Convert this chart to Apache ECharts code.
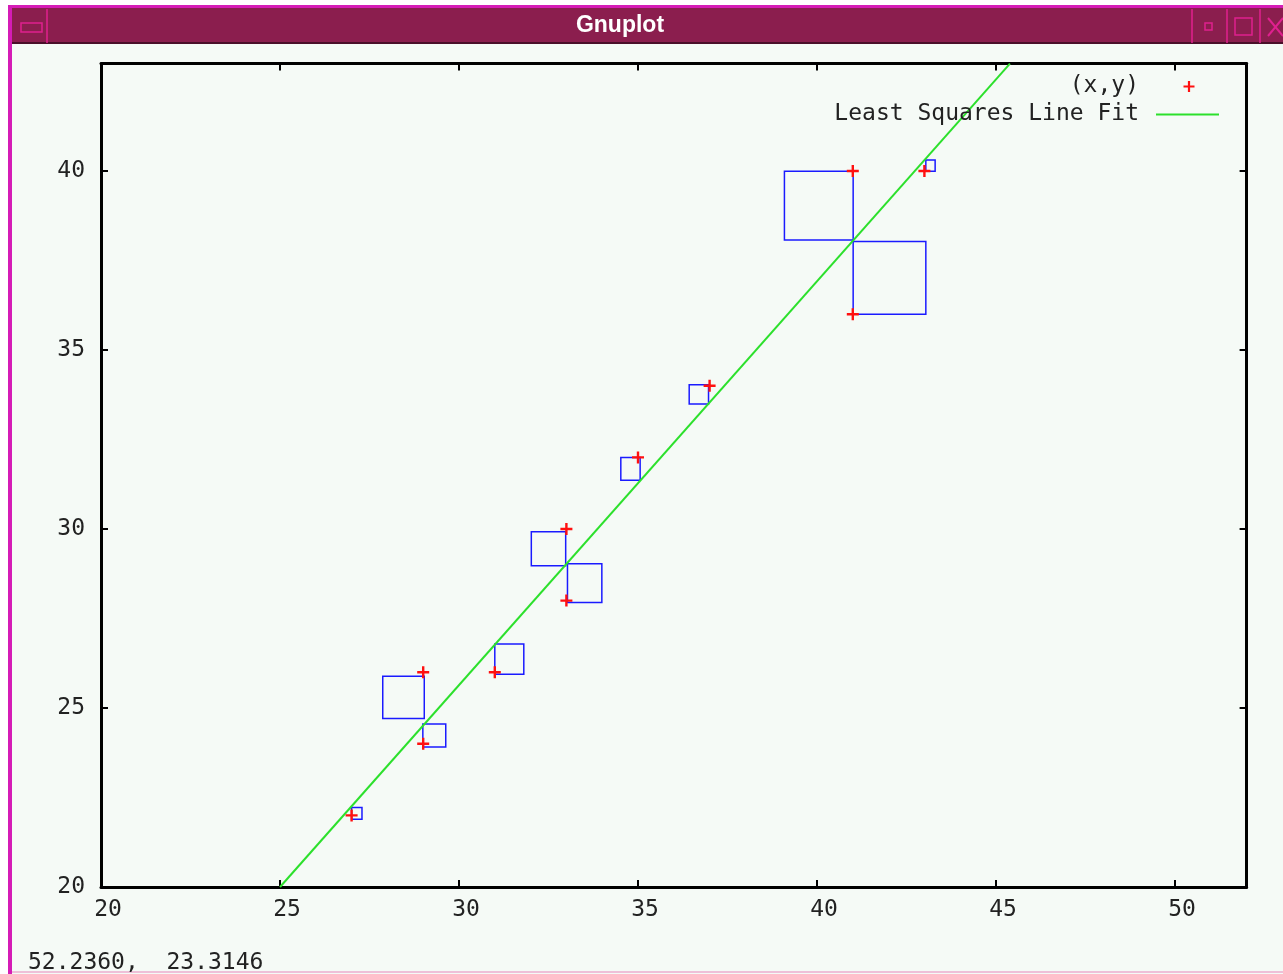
<!DOCTYPE html>
<html>
<head>
<meta charset="utf-8">
<script src="https://cdn.jsdelivr.net/npm/echarts@6/dist/echarts.min.js"></script>
<style>
html,body{margin:0;padding:0;background:#ffffff;}
#chart{width:1283px;height:974px;}
</style>
</head>
<body>
<div id="chart"></div>
<script>
// ---- data ----
const pointsX = [27, 29, 29, 31, 33, 33, 35, 37, 41, 41, 43];
const pointsY = [22, 26, 24, 26, 30, 28, 32, 34, 40, 36, 40];
const fitX = [25, 45.39];
const fitY = [20.0, 43.0];
const sqX0 = [27.00, 27.87, 28.99, 31.00, 32.02, 33.03, 34.52, 36.43, 39.09, 41.01, 43.04];
const sqX1 = [27.29, 29.03, 29.63, 31.81, 32.98, 33.99, 35.06, 36.97, 41.01, 43.04, 43.30];
const sqY0 = [21.89, 24.71, 23.91, 25.94, 28.97, 27.95, 31.36, 33.49, 38.07, 36.00, 39.99];
const sqY1 = [22.22, 25.89, 24.55, 26.79, 29.92, 29.03, 32.00, 34.03, 39.99, 38.03, 40.31];
const seriesNames = ['(x,y)', 'Least Squares Line Fit'];
const windowTitle = 'Gnuplot';
const statusText = '52.2360,  23.3146';

const pointData = pointsX.map((x, i) => [x, pointsY[i]]);
const fitData = fitX.map((x, i) => [x, fitY[i]]);
const sqData = sqX0.map((x, i) => [x, sqY0[i], sqX1[i], sqY1[i]]);

const FONT = '"DejaVu Sans Mono", "Liberation Mono", monospace';
const PLUS = 'path://M4,0H6V4H10V6H6V10H4V6H0V4H4Z';
const BG = '#f5faf6';
const GREEN = '#2ce02c';

const chart = echarts.init(document.getElementById('chart'), null, {renderer: 'canvas'});

const axisCommon = {
  axisLine: {show: true, onZero: false, lineStyle: {color: '#000', width: 3}},
  axisTick: {show: true, inside: true, length: 7, lineStyle: {color: '#000', width: 2}},
  splitLine: {show: false}
};

const option = {
  backgroundColor: '#ffffff',
  animation: false,
  graphic: [
    // window frame and client background
    {type: 'rect', shape: {x: 8, y: 5, width: 1275, height: 969}, style: {fill: '#d51cb6'}, z: -10},
    {type: 'rect', shape: {x: 12, y: 8, width: 1271, height: 966}, style: {fill: BG}, z: -9},
    // title bar
    {type: 'rect', shape: {x: 12, y: 8, width: 1271, height: 36}, style: {fill: '#8b1e4e'}, z: -8},
    {type: 'rect', shape: {x: 12, y: 42, width: 1271, height: 2}, style: {fill: '#4a0f2a'}, z: -7},
    {type: 'line', shape: {x1: 47, y1: 9, x2: 47, y2: 43}, style: {stroke: '#e0208f', lineWidth: 1.5}, z: -7},
    {type: 'rect', shape: {x: 21, y: 23, width: 21, height: 9}, style: {fill: '#8b1e4e', stroke: '#e0208f', lineWidth: 1.5}, z: -7},
    {type: 'line', shape: {x1: 1192, y1: 9, x2: 1192, y2: 43}, style: {stroke: '#e0208f', lineWidth: 1.5}, z: -7},
    {type: 'line', shape: {x1: 1227, y1: 9, x2: 1227, y2: 43}, style: {stroke: '#e0208f', lineWidth: 1.5}, z: -7},
    {type: 'line', shape: {x1: 1260, y1: 9, x2: 1260, y2: 43}, style: {stroke: '#e0208f', lineWidth: 1.5}, z: -7},
    {type: 'rect', shape: {x: 1205, y: 23, width: 7, height: 7}, style: {fill: '#8b1e4e', stroke: '#e0208f', lineWidth: 1.5}, z: -7},
    {type: 'rect', shape: {x: 1235, y: 18, width: 17, height: 17}, style: {fill: '#8b1e4e', stroke: '#e0208f', lineWidth: 1.5}, z: -7},
    {type: 'line', shape: {x1: 1268, y1: 18, x2: 1283, y2: 36}, style: {stroke: '#e0208f', lineWidth: 2}, z: -7},
    {type: 'line', shape: {x1: 1283, y1: 18, x2: 1268, y2: 36}, style: {stroke: '#e0208f', lineWidth: 2}, z: -7},
    {type: 'text', x: 620, y: 26,
      style: {text: windowTitle, fill: '#ffffff', align: 'center', verticalAlign: 'middle',
        font: 'bold 23px "Liberation Sans Narrow", "Liberation Sans", sans-serif'}, z: -6},
    // bottom pink line
    {type: 'rect', shape: {x: 12, y: 971, width: 1271, height: 2}, style: {fill: '#eec0d8'}, z: -7},
    // status text
    {type: 'text', left: 28, top: 952, style: {text: statusText, fill: '#222', font: '23px ' + FONT}, z: 5}
  ],
  grid: {left: 101, top: 63.6, width: 1145.6, height: 823.4, show: false},
  legend: [
    {
      data: [{name: seriesNames[0], icon: PLUS}],
      orient: 'vertical', align: 'right', right: 83.5, top: 70,
      itemWidth: 13, itemHeight: 11,
      textStyle: {fontFamily: FONT, fontSize: 23, color: '#222', padding: [0, 38.5, 0, 0]},
      selectedMode: false
    },
    {
      data: [{name: seriesNames[1], icon: 'rect'}],
      orient: 'vertical', align: 'right', right: 59, top: 98,
      itemWidth: 63, itemHeight: 2,
      textStyle: {fontFamily: FONT, fontSize: 23, color: '#222', padding: [0, 12, 0, 0]},
      selectedMode: false
    }
  ],
  xAxis: [
    Object.assign({}, axisCommon, {
      type: 'value', position: 'bottom', min: 20, max: 52, interval: 5,
      axisLabel: {show: true, showMaxLabel: false, showMinLabel: true, margin: 12,
        fontFamily: FONT, fontSize: 23, color: '#222', padding: [0, 0, 0, 14]}
    }),
    Object.assign({}, axisCommon, {
      type: 'value', position: 'top', min: 20, max: 52, interval: 5,
      axisLabel: {show: false}
    })
  ],
  yAxis: [
    Object.assign({}, axisCommon, {
      type: 'value', position: 'left', min: 20, max: 43, interval: 5,
      axisLabel: {show: true, showMaxLabel: false, showMinLabel: true, margin: 16,
        fontFamily: FONT, fontSize: 23, color: '#222'}
    }),
    Object.assign({}, axisCommon, {
      type: 'value', position: 'right', min: 20, max: 43, interval: 5,
      axisLabel: {show: false}
    })
  ],
  series: [
    {
      name: 'squares',
      type: 'custom',
      xAxisIndex: 0, yAxisIndex: 0,
      data: sqData,
      encode: {x: [0, 2], y: [1, 3]},
      clip: true,
      z: 2,
      renderItem: function (params, api) {
        const p0 = api.coord([api.value(0), api.value(3)]);
        const p1 = api.coord([api.value(2), api.value(1)]);
        return {
          type: 'rect',
          shape: {x: p0[0], y: p0[1], width: p1[0] - p0[0], height: p1[1] - p0[1]},
          style: {fill: 'none', stroke: '#1a1aff', lineWidth: 1.5}
        };
      }
    },
    {
      name: seriesNames[1],
      type: 'line',
      xAxisIndex: 0, yAxisIndex: 0,
      data: fitData,
      symbol: 'none',
      clip: true,
      z: 3,
      lineStyle: {color: GREEN, width: 2},
      itemStyle: {color: GREEN}
    },
    {
      name: seriesNames[0],
      type: 'scatter',
      xAxisIndex: 0, yAxisIndex: 0,
      data: pointData,
      symbol: PLUS,
      symbolSize: 12,
      z: 4,
      itemStyle: {color: '#ff1010', opacity: 1}
    }
  ]
};

chart.setOption(option);
</script>
</body>
</html>
